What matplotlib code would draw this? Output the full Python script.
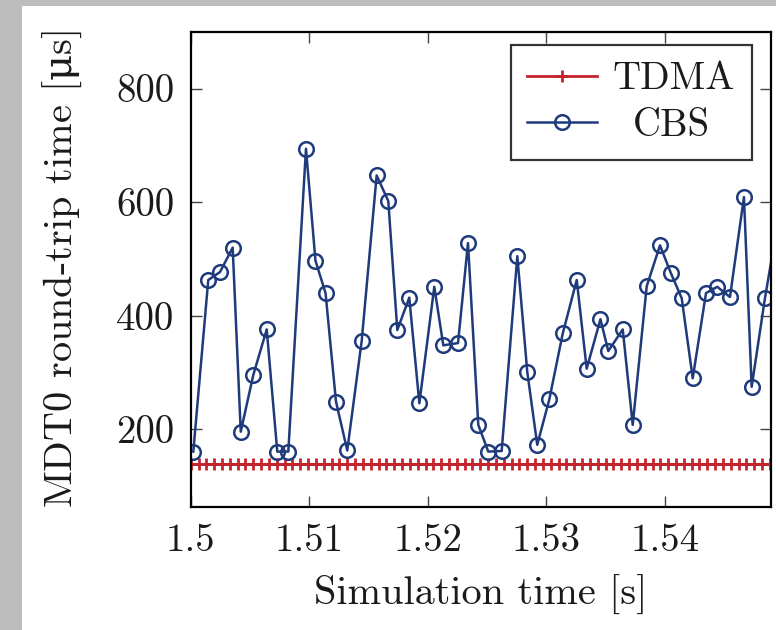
import matplotlib
matplotlib.use('agg')
import matplotlib.pyplot as plt
from matplotlib.patches import Rectangle
from matplotlib.transforms import Affine2D
import numpy as np

# CBS round-trip samples (time [s], rtt [us])
cbs_time = [1.50022, 1.50148, 1.50247, 1.50354, 1.50422, 1.50528, 1.50641, 1.50730,
            1.50823, 1.50972, 1.51052, 1.51137, 1.51225, 1.51320, 1.51442, 1.51568,
            1.51666, 1.51742, 1.51843, 1.51928, 1.52054, 1.52130, 1.52254, 1.52338,
            1.52425, 1.52509, 1.52622, 1.52754, 1.52838, 1.52922, 1.53024, 1.53137,
            1.53255, 1.53339, 1.53455, 1.53521, 1.53643, 1.53727, 1.53845, 1.53957,
            1.54047, 1.54140, 1.54233, 1.54345, 1.54440, 1.54547, 1.54665, 1.54730,
            1.54842, 1.54955]
cbs_rtt = [161, 463, 477, 520, 196, 296, 376, 161,
           161, 694, 497, 440, 249, 163, 356, 647,
           602, 375, 432, 246, 451, 348, 352, 528,
           208, 161, 162, 505, 301, 173, 253, 369,
           463, 307, 394, 338, 376, 208, 452, 524,
           476, 431, 290, 440, 451, 433, 609, 275,
           431, 570]

# TDMA: fixed slot, constant round-trip time
tdma_start = 1.5
tdma_period = 0.00066
tdma_count = 75
tdma_value = 140

xticks = [1.5, 1.51, 1.52, 1.53, 1.54]
xtick_labels = ['1.5', '1.51', '1.52', '1.53', '1.54']
yticks = [200, 400, 600, 800]
ytick_labels = ['200', '400', '600', '800']

plt.rcParams['font.family'] = ['cmr10', 'DejaVu Serif']
plt.rcParams['mathtext.fontset'] = 'custom'
plt.rcParams['mathtext.rm'] = 'DejaVu Serif'
plt.rcParams['axes.unicode_minus'] = False

W, H = 776, 630
fig = plt.figure(figsize=(W / 100, H / 100), dpi=100, facecolor='#bdbdbd')
fig.add_artist(Rectangle((22 / W, 0), 1, 1 - 6 / H, transform=fig.transFigure,
                         facecolor='white', edgecolor='none', zorder=0))

left, right, top, bottom = 190.7, 771.0, 31.7, 506.7
ax = fig.add_axes([left / W, 1 - bottom / H, (right - left) / W, (bottom - top) / H])
ax.set_facecolor('white')

tdma_time = tdma_start + tdma_period * np.arange(tdma_count)
tdma_rtt = np.full(tdma_count, tdma_value)

ax.plot(tdma_time, tdma_rtt, color='#c4252d', lw=2.0, marker='+', ms=9, mew=2.0,
        label='TDMA')
ax.plot(cbs_time, cbs_rtt, color='#1f3b7c', lw=1.8, marker='o', ms=10.5, mew=1.8,
        markerfacecolor='none', label='CBS')

ax.set_xlim(1.5, 1.54893)
ax.set_ylim(64, 900)
ax.set_xticks(xticks, labels=xtick_labels)
ax.set_yticks(yticks, labels=ytick_labels)
ax.tick_params(direction='in', length=8, width=1.0, color='#444444',
               top=True, right=True, labelsize=28, pad=12, labelcolor='#1a1a1a')
for s in ax.spines.values():
    s.set_linewidth(1.6)

ax.set_xlabel('Simulation time [s]', fontsize=29, color='#1a1a1a')
ax.set_ylabel(r'MDT0 round-trip time [$\mathrm{\mu}$s]', fontsize=29, color='#1a1a1a')
ax.xaxis.set_label_coords(0.5, -0.186)
ax.xaxis.label.set_va('center')
ax.yaxis.set_label_coords(-0.222, 0.5)
ax.yaxis.label.set_va('center')

leg = ax.legend(loc='upper right', bbox_to_anchor=(0.9668, 0.972), borderaxespad=0,
                fontsize=28, frameon=True, fancybox=False, edgecolor='black',
                handlelength=1.8, handletextpad=0.41, borderpad=0.42, labelspacing=0.28)
leg.get_frame().set_linewidth(1.6)
for t in leg.get_texts():
    t.set_color('#1a1a1a')
# centre the shorter label in the text column, like pgfplots does
cbs_text = leg.get_texts()[1]
cbs_text.set_transform(cbs_text.get_transform() + Affine2D().translate(20, 0))

fig.savefig('out.png', dpi=100, facecolor=fig.get_facecolor())
plt.close(fig)
